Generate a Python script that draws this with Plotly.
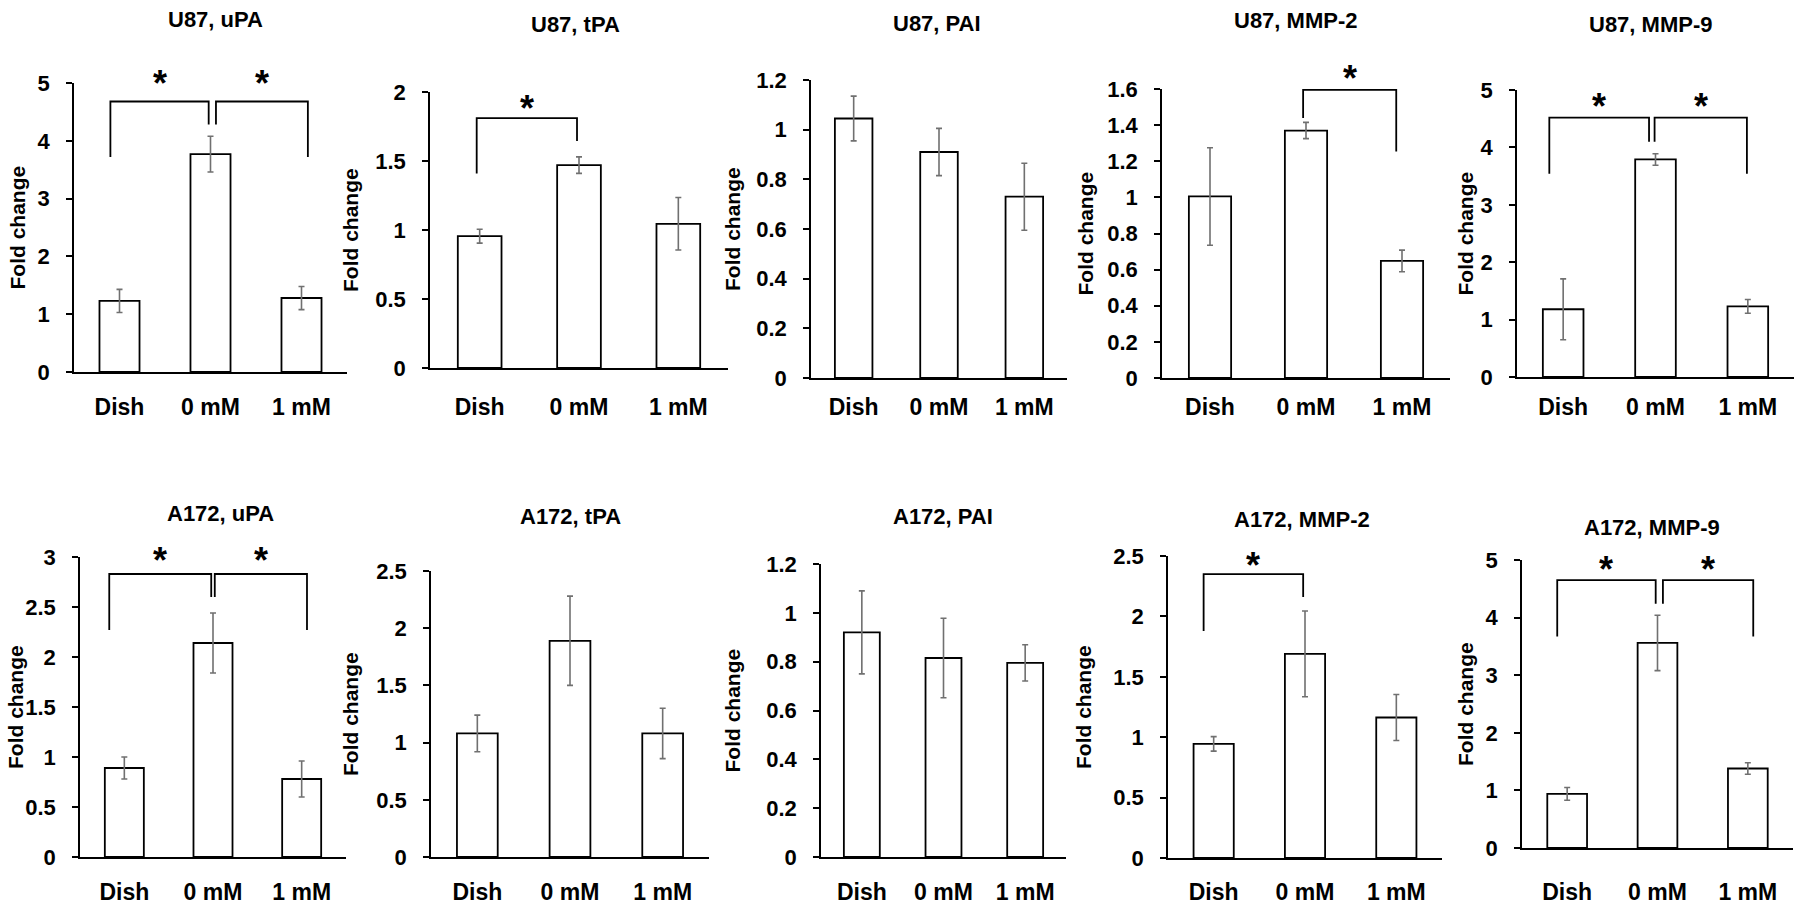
import plotly.graph_objects as go

# categories on every panel
groups = ["Dish", "0 mM", "1 mM"]

titles = ["U87, uPA", "U87, tPA", "U87, PAI", "U87, MMP-2", "U87, MMP-9",
          "A172, uPA", "A172, tPA", "A172, PAI", "A172, MMP-2", "A172, MMP-9"]

# mean fold change and error
u87_upa = [1.23, 3.77, 1.28]
u87_upa_err = [0.20, 0.31, 0.20]
u87_tpa = [0.955, 1.47, 1.045]
u87_tpa_err = [0.05, 0.06, 0.19]
u87_pai = [1.045, 0.91, 0.73]
u87_pai_err = [0.09, 0.095, 0.135]
u87_mmp2 = [1.005, 1.37, 0.648]
u87_mmp2_err = [0.27, 0.045, 0.06]
u87_mmp9 = [1.18, 3.79, 1.23]
u87_mmp9_err = [0.53, 0.10, 0.12]

a172_upa = [0.89, 2.14, 0.78]
a172_upa_err = [0.11, 0.30, 0.18]
a172_tpa = [1.08, 1.89, 1.08]
a172_tpa_err = [0.16, 0.39, 0.22]
a172_pai = [0.92, 0.815, 0.795]
a172_pai_err = [0.17, 0.163, 0.074]
a172_mmp2 = [0.945, 1.69, 1.163]
a172_mmp2_err = [0.06, 0.355, 0.19]
a172_mmp9 = [0.94, 3.56, 1.38]
a172_mmp9_err = [0.11, 0.48, 0.10]

means = [u87_upa, u87_tpa, u87_pai, u87_mmp2, u87_mmp9,
         a172_upa, a172_tpa, a172_pai, a172_mmp2, a172_mmp9]
errs = [u87_upa_err, u87_tpa_err, u87_pai_err, u87_mmp2_err, u87_mmp9_err,
        a172_upa_err, a172_tpa_err, a172_pai_err, a172_mmp2_err, a172_mmp9_err]

# y axis max and tick step per panel
y_max = [5, 2, 1.2, 1.6, 5, 3, 2.5, 1.2, 2.5, 5]
y_step = [1, 0.5, 0.2, 0.2, 1, 0.5, 0.5, 0.2, 0.5, 1]

# significance brackets:
# (panel, left x, right x, bracket height, left leg end, right leg end, star height)
brackets = [
    (0, -0.10, 0.98, 4.68, 3.72, 4.28, 5.13),
    (0, 1.06, 2.07, 4.68, 4.28, 3.72, 5.13),
    (1, -0.03, 0.98, 1.81, 1.41, 1.645, 1.94),
    (3, 0.97, 1.94, 1.595, 1.44, 1.254, 1.705),
    (4, -0.15, 0.93, 4.52, 3.54, 4.10, 4.86),
    (4, 0.99, 1.99, 4.52, 4.10, 3.54, 4.86),
    (5, -0.17, 0.98, 2.83, 2.27, 2.60, 3.05),
    (5, 1.02, 2.06, 2.83, 2.60, 2.27, 3.05),
    (8, -0.11, 0.98, 2.35, 1.88, 2.16, 2.49),
    (9, -0.11, 0.98, 4.65, 3.67, 4.24, 4.97),
    (9, 1.06, 2.06, 4.65, 4.24, 3.67, 4.97),
]

# ---- layout (pixels on the 1800x904 page) ----
W, H = 1800, 904

def px_x(p):
    return p / W

def px_y(p):
    return 1 - p / H

# left (y axis), right end, zero line, top tick
boxes = [
    (74, 347, 372, 83), (430, 728, 368, 92), (811, 1067, 378, 80),
    (1162, 1450, 378, 89), (1517, 1794, 377, 90),
    (80, 346, 857, 557), (431, 709, 857, 571), (821, 1066, 857, 564),
    (1168, 1442, 858, 556), (1522, 1793, 848, 560),
]
title_xy = [(215, 19), (575, 25), (937, 23), (1295, 21), (1650, 24),
            (220, 513), (570, 516), (943, 516), (1302, 519), (1652, 527)]
ytitle_x = [17, 350, 733, 1085, 1465, 15, 350, 732, 1083, 1465]
xlabel_y = [405] * 5 + [890] * 5

FONT = "Liberation Sans, Arial, sans-serif"

def bold(size):
    return dict(family=FONT, size=size, color="black", weight="bold")

fig = go.Figure()
shapes = []
annotations = []

for i in range(10):
    n = "" if i == 0 else str(i + 1)
    left, right, y0, ytop = boxes[i]

    fig.add_trace(go.Bar(
        x=groups, y=means[i],
        error_y=dict(type="data", array=errs[i], color="#707070",
                     thickness=1.6, width=3),
        width=0.44,
        marker=dict(color="white", line=dict(color="black", width=1.8)),
        xaxis="x" + n, yaxis="y" + n, showlegend=False,
    ))

    fig.layout["xaxis" + n] = dict(
        domain=[px_x(left), px_x(right)], anchor="y" + n,
        type="category", range=[-0.5, 2.5],
        showline=True, linecolor="black", linewidth=1.5,
        ticks="", showgrid=False, zeroline=False,
        tickfont=bold(23),
        ticklabelstandoff=xlabel_y[i] - y0 - 19,
        automargin=False, fixedrange=True,
    )
    fig.layout["yaxis" + n] = dict(
        domain=[px_y(y0), px_y(ytop)], anchor="x" + n,
        range=[0, y_max[i]], tickmode="linear", tick0=0, dtick=y_step[i],
        showline=True, linecolor="black", linewidth=1.5,
        ticks="outside", ticklen=6, tickwidth=1.5, tickcolor="black",
        ticklabelstandoff=12,
        showgrid=False, zeroline=False, tickfont=bold(22),
        automargin=False, fixedrange=True,
    )

    tx, ty = title_xy[i]
    annotations.append(dict(
        text=titles[i], x=px_x(tx), y=px_y(ty), xref="paper", yref="paper",
        xanchor="center", yanchor="middle", showarrow=False,
        font=bold(22),
    ))
    annotations.append(dict(
        text="Fold change", x=px_x(ytitle_x[i]), y=px_y((y0 + ytop) / 2),
        xref="paper", yref="paper", textangle=-90,
        xanchor="center", yanchor="middle", showarrow=False,
        font=bold(21),
    ))

for p, xl, xr, yb, yl, yr, ys in brackets:
    n = "" if p == 0 else str(p + 1)
    m = y_max[p]
    shapes.append(dict(
        type="path", xref="x" + n, yref="y" + n + " domain",
        path=f"M {xl} {yl / m} L {xl} {yb / m} L {xr} {yb / m} L {xr} {yr / m}",
        line=dict(color="black", width=1.8),
    ))
    annotations.append(dict(
        text="*", x=(xl + xr) / 2, y=ys / m, xref="x" + n, yref="y" + n + " domain",
        xanchor="center", yanchor="middle", yshift=-8, showarrow=False,
        font=bold(36),
    ))

fig.update_layout(
    width=W, height=H,
    margin=dict(l=0, r=0, t=0, b=0, pad=0, autoexpand=False),
    paper_bgcolor="white", plot_bgcolor="white",
    shapes=shapes, annotations=annotations,
    bargap=0.5,
)

# drop the default 8px body margin so the figure sits at the page corner
fig.write_html("out.html", config={"displayModeBar": False},
               post_script="document.body.style.margin = '0px';")
